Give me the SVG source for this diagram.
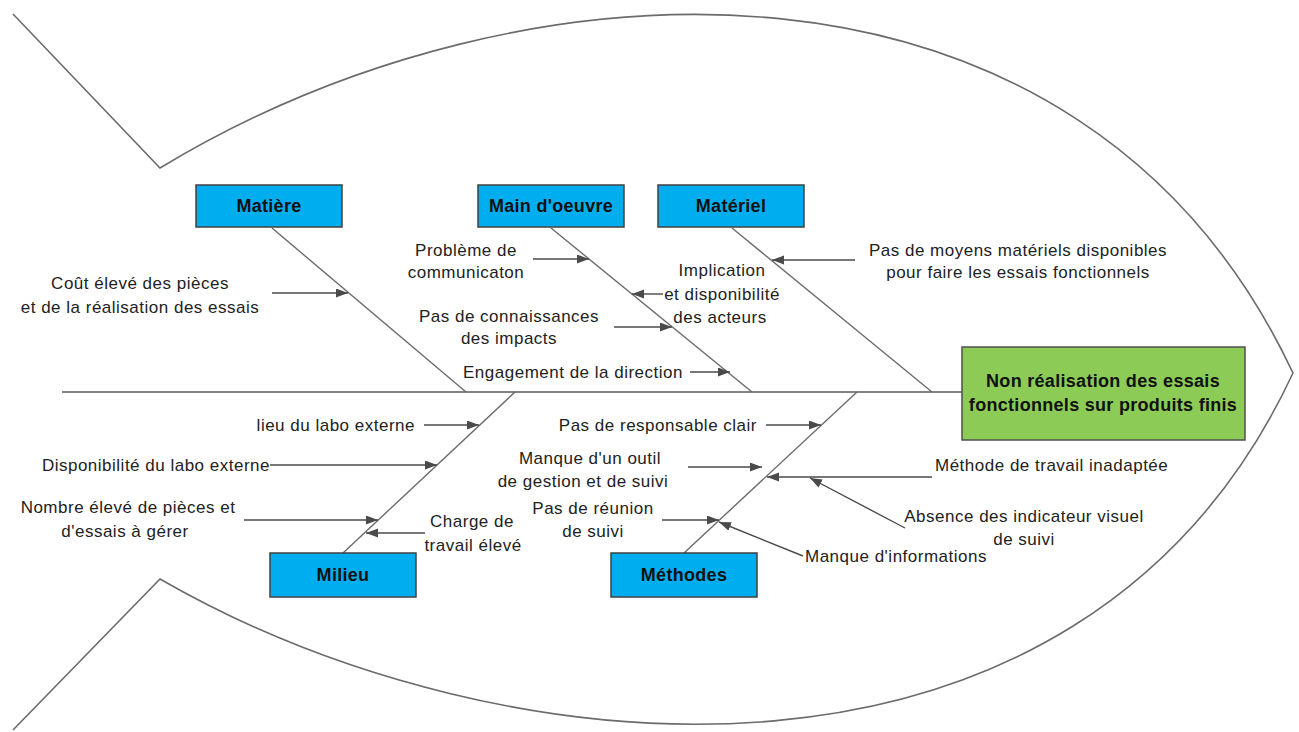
<svg xmlns="http://www.w3.org/2000/svg" width="1299" height="732" viewBox="0 0 1299 732">
  <defs>
    <marker id="arrow" markerUnits="userSpaceOnUse" markerWidth="13" markerHeight="10" refX="12" refY="4.5" orient="auto">
      <path d="M0,0 L12,4.5 L0,9 z" fill="#4a4a4a"/>
    </marker>
    <style>
      .outline { fill: none; stroke: #6b6b6b; stroke-width: 1.6; }
      .spine { fill: none; stroke: #5a5a5a; stroke-width: 1.6; }
      .bone { fill: none; stroke: #6b6b6b; stroke-width: 1.4; }
      .cause { fill: none; stroke: #4a4a4a; stroke-width: 1.4; }
      .arr { marker-end: url(#arrow); }
      .cat rect { fill: #00AEEF; stroke: #404040; stroke-width: 1.5; }
      .cat text { font-family: "Liberation Sans", Arial, sans-serif; font-size: 18px; font-weight: bold; fill: #111; text-anchor: middle; letter-spacing: 0.3px; }
      .effect rect { fill: #8CCB56; stroke: #505050; stroke-width: 1.5; }
      .effect text { font-family: "Liberation Sans", Arial, sans-serif; font-size: 18px; font-weight: bold; fill: #111; text-anchor: middle; letter-spacing: 0.3px; }
      .lbl { font-family: "Liberation Sans", Arial, sans-serif; font-size: 17px; fill: #222; letter-spacing: 0.5px; }
      .mid { text-anchor: middle; }
      .end { text-anchor: end; }
    </style>
  </defs>

  <rect width="1299" height="732" fill="#ffffff"/>

  <!-- fish body outline -->
  <g id="fish">
    <path class="outline" d="M13,14 L160,168 C520,-50 1080,-80 1293,373 C1080,830 500,775 160,579 L13,730"/>
  </g>

  <!-- spine and category bones -->
  <g id="bones">
    <line class="spine" x1="62" y1="392" x2="962" y2="392"/>
    <line class="bone" x1="272" y1="228" x2="466" y2="392"/>
    <line class="bone" x1="551" y1="228" x2="752" y2="392"/>
    <line class="bone" x1="732" y1="228" x2="932" y2="392"/>
    <line class="bone" x1="343" y1="553" x2="515" y2="392"/>
    <line class="bone" x1="684" y1="553" x2="857" y2="392"/>
  </g>

  <!-- cause arrows -->
  <g id="connectors">
    <line class="cause arr" x1="272" y1="293" x2="348" y2="293"/>
    <line class="cause arr" x1="533" y1="259" x2="589" y2="259"/>
    <line class="cause arr" x1="663" y1="294" x2="632" y2="294"/>
    <line class="cause arr" x1="614" y1="327" x2="672" y2="327"/>
    <line class="cause arr" x1="690" y1="372" x2="730" y2="372"/>
    <line class="cause arr" x1="855" y1="260" x2="772" y2="260"/>
    <line class="cause arr" x1="424" y1="425" x2="479" y2="425"/>
    <line class="cause arr" x1="270" y1="465" x2="437" y2="465"/>
    <line class="cause arr" x1="244" y1="520" x2="378" y2="520"/>
    <line class="cause arr" x1="425" y1="533" x2="366" y2="533"/>
    <line class="cause arr" x1="766" y1="425" x2="821" y2="425"/>
    <line class="cause arr" x1="688" y1="467" x2="762" y2="467"/>
    <line class="cause arr" x1="662" y1="520" x2="719" y2="520"/>
    <line class="cause arr" x1="932" y1="477" x2="767" y2="477"/>
    <line class="cause arr" x1="905" y1="528" x2="810" y2="478"/>
    <line class="cause arr" x1="803" y1="556" x2="719" y2="522"/>
  </g>

  <!-- category boxes -->
  <g id="matiere" class="cat">
    <rect x="196" y="185" width="146" height="42"/>
    <text x="269" y="212">Matière</text>
  </g>
  <g id="main-oeuvre" class="cat">
    <rect x="478" y="185" width="146" height="42"/>
    <text x="551" y="212">Main d'oeuvre</text>
  </g>
  <g id="materiel" class="cat">
    <rect x="658" y="185" width="146" height="42"/>
    <text x="731" y="212">Matériel</text>
  </g>
  <g id="milieu" class="cat">
    <rect x="270" y="553" width="146" height="44"/>
    <text x="343" y="581">Milieu</text>
  </g>
  <g id="methodes" class="cat">
    <rect x="611" y="553" width="146" height="44"/>
    <text x="684" y="581">Méthodes</text>
  </g>

  <!-- effect box -->
  <g id="effet" class="effect">
    <rect x="962" y="347" width="283" height="93"/>
    <text x="1103" y="387">Non réalisation des essais</text>
    <text x="1103" y="411">fonctionnels sur produits finis</text>
  </g>

  <!-- cause labels -->
  <g id="causes-matiere">
    <text class="lbl mid" x="140" y="289">Coût élevé des pièces</text>
    <text class="lbl mid" x="140" y="313">et de la réalisation des essais</text>
  </g>
  <g id="causes-main-oeuvre">
    <text class="lbl mid" x="466" y="256">Problème de</text>
    <text class="lbl mid" x="466" y="278">communicaton</text>
    <text class="lbl mid" x="722" y="276">Implication</text>
    <text class="lbl mid" x="722" y="300">et disponibilité</text>
    <text class="lbl mid" x="720" y="323">des acteurs</text>
    <text class="lbl mid" x="509" y="322">Pas de connaissances</text>
    <text class="lbl mid" x="509" y="344">des impacts</text>
    <text class="lbl end" x="683" y="378">Engagement de la direction</text>
  </g>
  <g id="causes-materiel">
    <text class="lbl mid" x="1018" y="256">Pas de moyens matériels disponibles</text>
    <text class="lbl mid" x="1018" y="278">pour faire les essais fonctionnels</text>
  </g>
  <g id="causes-milieu">
    <text class="lbl end" x="415" y="431">lieu du labo externe</text>
    <text class="lbl end" x="270" y="471">Disponibilité du labo externe</text>
    <text class="lbl mid" x="128" y="513">Nombre élevé de pièces et</text>
    <text class="lbl mid" x="125" y="537">d'essais à gérer</text>
    <text class="lbl mid" x="472" y="527">Charge de</text>
    <text class="lbl mid" x="473" y="551">travail élevé</text>
  </g>
  <g id="causes-methodes">
    <text class="lbl end" x="757" y="431">Pas de responsable clair</text>
    <text class="lbl mid" x="590" y="464">Manque d'un outil</text>
    <text class="lbl mid" x="583" y="487">de gestion et de suivi</text>
    <text class="lbl mid" x="593" y="514">Pas de réunion</text>
    <text class="lbl mid" x="593" y="537">de suivi</text>
    <text class="lbl" x="935" y="471">Méthode de travail inadaptée</text>
    <text class="lbl mid" x="1024" y="522">Absence des indicateur visuel</text>
    <text class="lbl mid" x="1024" y="545">de suivi</text>
    <text class="lbl" x="805" y="562">Manque d'informations</text>
  </g>
</svg>
